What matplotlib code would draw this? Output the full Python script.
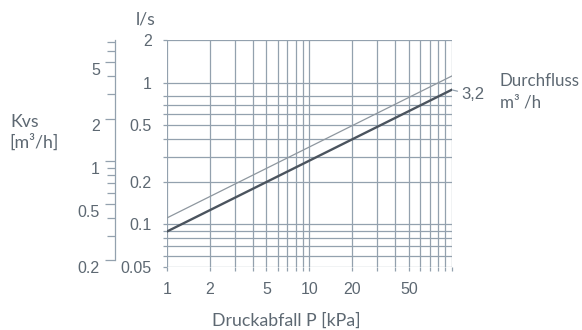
import matplotlib
matplotlib.use("Agg")
from matplotlib import pyplot as plt
from matplotlib.ticker import FixedLocator, NullFormatter, FixedFormatter
from matplotlib.transforms import ScaledTranslation

# data (l/s against kPa, two straight log-log lines)
pressure = [1, 100]
flow_kvs32 = [0.089, 0.889]
flow_kvs4 = [0.111, 1.111]

x_ticks = [1, 2, 5, 10, 20, 50]
x_labels = ["1", "2", "5", "10", "20", "50"]
x_grid = [1, 2, 3, 4, 5, 6, 7, 8, 9, 10, 20, 30, 40, 50, 60, 70, 80, 90, 100]

y_ticks = [0.05, 0.1, 0.2, 0.5, 1, 2]
y_labels = ["0.05", "0.1", "0.2", "0.5", "1", "2"]
y_grid = [0.05, 0.06, 0.07, 0.08, 0.09, 0.1, 0.2, 0.3, 0.4, 0.5, 0.6, 0.7, 0.8, 1, 2]

kvs_ticks = [0.2, 0.5, 1, 2, 5]
kvs_labels = ["0.2", "0.5", "1", "2", "5"]
kvs_minor = [0.3, 0.4, 0.6, 0.7, 0.8, 0.9, 3, 4, 6, 7]
lps_to_m3h = 3.6

grid_col = "#93a1ae"
text_col = "#5d6872"
num_font = "Liberation Sans"
lab_font = "Lato"
lab_size = 12.8

plt.rcParams["font.family"] = [num_font, "DejaVu Sans"]

fig = plt.figure(figsize=(5.82, 3.30), dpi=100)
ax = fig.add_axes([0.287, 0.191, 0.489, 0.688])

ax.set_xscale("log")
ax.set_yscale("log")
ax.set_xlim(1, 100)
ax.set_ylim(0.05, 2)

# grid
for v in x_grid:
    ax.axvline(v, color=grid_col, lw=0.9, zorder=1)
for v in y_grid:
    ax.axhline(v, color=grid_col, lw=0.9, zorder=1)

ax.plot(pressure, flow_kvs4, color="#8e979f", lw=0.9, zorder=3)
ax.plot(pressure, flow_kvs32, color="#4b545e", lw=1.7, zorder=4)

ax.annotate("3,2", xy=(pressure[-1], flow_kvs32[-1]), xytext=(10, -5),
            textcoords="offset pixels", ha="left", va="center",
            fontsize=12, color=text_col, annotation_clip=False,
            arrowprops=dict(arrowstyle="-", color=grid_col, lw=0.9,
                            shrinkA=1, shrinkB=0))

for s in ax.spines.values():
    s.set_visible(False)

ax.xaxis.set_major_locator(FixedLocator(x_ticks))
ax.xaxis.set_major_formatter(FixedFormatter(x_labels))
ax.xaxis.set_minor_locator(FixedLocator(x_grid))
ax.xaxis.set_minor_formatter(NullFormatter())
ax.yaxis.set_major_locator(FixedLocator(y_ticks))
ax.yaxis.set_major_formatter(FixedFormatter(y_labels))
ax.yaxis.set_minor_locator(FixedLocator(y_grid))
ax.yaxis.set_minor_formatter(NullFormatter())
ax.tick_params(axis="both", which="both", direction="out", length=3,
               width=0.9, color=grid_col, labelcolor=text_col,
               labelsize=11.5)
ax.tick_params(axis="x", which="major", pad=8)
ax.tick_params(axis="y", which="major", pad=8)

ax.set_xlabel("Druckabfall P [kPa]", fontsize=lab_size, color=text_col,
              family=lab_font)
ax.xaxis.set_label_coords(0.42, -0.2)

# Kvs scale on the far left
ax2 = ax.twinx()
ax2.set_yscale("log")
ax2.set_ylim(0.05 * lps_to_m3h, 2 * lps_to_m3h)
for k in ["top", "right", "bottom"]:
    ax2.spines[k].set_visible(False)
ax2.spines["left"].set_visible(True)
ax2.spines["left"].set_position(("outward", 37.4))
ax2.spines["left"].set_color(grid_col)
ax2.spines["left"].set_linewidth(0.9)
ax2.spines["left"].set_bounds(0.2, 7.2)
ax2.yaxis.set_ticks_position("left")
ax2.yaxis.set_label_position("left")
ax2.yaxis.set_major_locator(FixedLocator(kvs_ticks))
ax2.yaxis.set_major_formatter(FixedFormatter(kvs_labels))
ax2.yaxis.set_minor_locator(FixedLocator(kvs_minor))
ax2.yaxis.set_minor_formatter(NullFormatter())
ax2.tick_params(axis="y", which="major", length=7, width=0.9,
                color=grid_col, labelcolor=text_col, labelsize=11.5, pad=4)
ax2.tick_params(axis="y", which="minor", length=6, width=0.9,
                color=grid_col)
shift = ScaledTranslation(0, -0.065, fig.dpi_scale_trans)
for lab in ax2.get_yticklabels():
    lab.set_transform(lab.get_transform() + shift)

fig.text(0.251, 0.942, "l/s", ha="center", va="center", fontsize=lab_size,
         color=text_col, family=lab_font)
fig.text(0.018, 0.631, "Kvs", ha="left", va="center", fontsize=lab_size,
         color=text_col, family=lab_font)
fig.text(0.016, 0.568, "[m³/h]", ha="left", va="center", fontsize=lab_size,
         color=text_col, family=lab_font)
fig.text(0.859, 0.7545, "Durchfluss", ha="left", va="center", fontsize=12.2,
         color=text_col, family=lab_font)
fig.text(0.859, 0.688, "m³ /h", ha="left", va="center", fontsize=12.2,
         color=text_col, family=lab_font)

fig.savefig("out.png", dpi=100)
